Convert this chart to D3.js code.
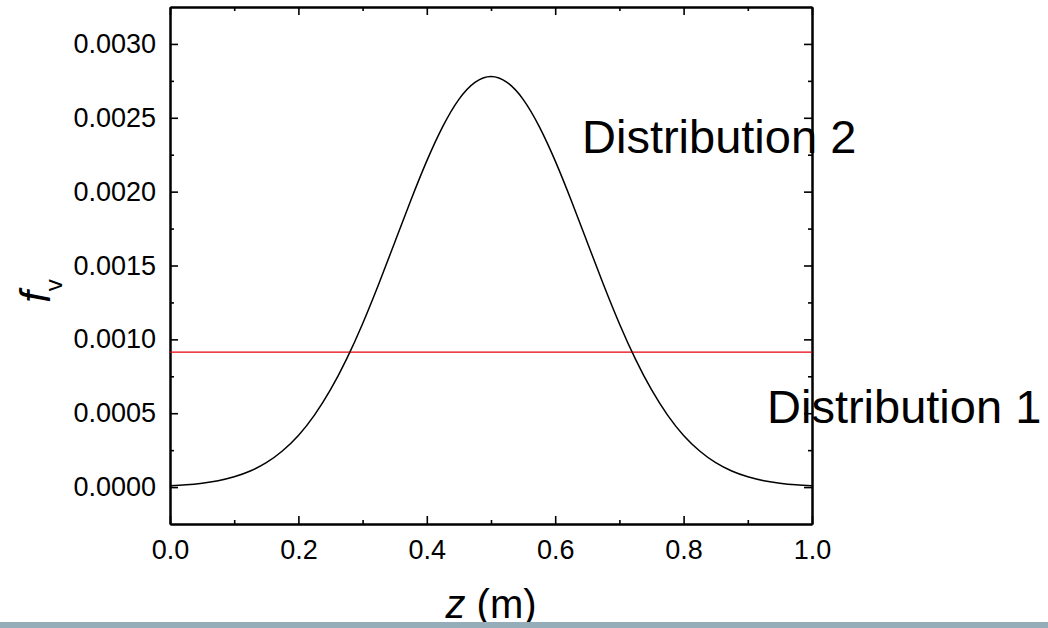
<!DOCTYPE html>
<html>
<head>
<meta charset="utf-8">
<script src="https://cdn.jsdelivr.net/npm/d3@7"></script>
<style>
  body { margin: 0; background: #fff; }
  svg { display: block; font-family: "Liberation Sans", Arial, sans-serif; }
</style>
</head>
<body>
<svg></svg>
<script>
'use strict';

const width = 1048, height = 628;

// curve samples
const zValues = [0, 0.025, 0.05, 0.075, 0.1, 0.125, 0.15, 0.175, 0.2, 0.225,
                 0.25, 0.275, 0.3, 0.325, 0.35, 0.375, 0.4, 0.425, 0.45, 0.475,
                 0.5,
                 0.525, 0.55, 0.575, 0.6, 0.625, 0.65, 0.675, 0.7, 0.725, 0.75,
                 0.775, 0.8, 0.825, 0.85, 0.875, 0.9, 0.925, 0.95, 0.975, 1.0];
const dist2 = [0.0000088, 0.0000153, 0.0000262, 0.0000433, 0.0000696, 0.0001088,
               0.000165, 0.000244, 0.000349, 0.000487, 0.000659, 0.000866,
               0.001106, 0.001373, 0.001656, 0.001940, 0.002208, 0.002442,
               0.002625, 0.002740,
               0.00278,
               0.002740, 0.002625, 0.002442, 0.002208, 0.001940, 0.001656,
               0.001373, 0.001106, 0.000866, 0.000659, 0.000487, 0.000349,
               0.000244, 0.000165, 0.0001088, 0.0000696, 0.0000433, 0.0000262,
               0.0000153, 0.0000088];
const dist1 = [0.000914, 0.000914];
const dist1Z = [0, 1];

const xTicks = [0, 0.2, 0.4, 0.6, 0.8, 1.0];
const xMinor = [0.1, 0.3, 0.5, 0.7, 0.9];
const yTicks = [0, 0.0005, 0.001, 0.0015, 0.002, 0.0025, 0.003];
const yMinor = [0.00025, 0.00075, 0.00125, 0.00175, 0.00225, 0.00275];

const margin = {left: 170, right: 236, top: 7, bottom: 104};

let svg = d3.select("svg")
  .attr("width", width)
  .attr("height", height)
  .attr("viewBox", [0, 0, width, height]);

let x = d3.scaleLinear().domain([0, 1]).range([margin.left, width - margin.right]);
let y = d3.scaleLinear().domain([-0.00025, 0.00325]).range([height - margin.bottom, margin.top]);

const fmtY = d3.format(".4f"), fmtX = d3.format(".1f");

function styleAxis(g) {
  g.selectAll("path.domain").attr("stroke", "#000").attr("stroke-width", 2);
  g.selectAll(".tick line").attr("stroke", "#000").attr("stroke-width", 1.6);
  g.selectAll(".tick text").attr("fill", "#000").attr("font-size", 27)
    .attr("font-family", "'Liberation Sans', Arial, sans-serif");
}

// bottom
svg.append("g")
  .attr("transform", `translate(0,${y.range()[0]})`)
  .call(d3.axisBottom(x).tickValues(xTicks).tickFormat(fmtX).tickSizeInner(-8).tickSizeOuter(0).tickPadding(16))
  .call(styleAxis);
svg.append("g")
  .attr("transform", `translate(0,${y.range()[0]})`)
  .call(d3.axisBottom(x).tickValues(xMinor).tickFormat("").tickSizeInner(-4).tickSizeOuter(0))
  .call(styleAxis);
// top
svg.append("g")
  .attr("transform", `translate(0,${y.range()[1]})`)
  .call(d3.axisTop(x).tickValues(xTicks).tickFormat("").tickSizeInner(-8).tickSizeOuter(0))
  .call(styleAxis);
svg.append("g")
  .attr("transform", `translate(0,${y.range()[1]})`)
  .call(d3.axisTop(x).tickValues(xMinor).tickFormat("").tickSizeInner(-4).tickSizeOuter(0))
  .call(styleAxis);
// left
svg.append("g")
  .attr("transform", `translate(${x.range()[0]},0)`)
  .call(d3.axisLeft(y).tickValues(yTicks).tickFormat(fmtY).tickSizeInner(-8).tickSizeOuter(0).tickPadding(14))
  .call(styleAxis);
svg.append("g")
  .attr("transform", `translate(${x.range()[0]},0)`)
  .call(d3.axisLeft(y).tickValues(yMinor).tickFormat("").tickSizeInner(-4).tickSizeOuter(0))
  .call(styleAxis);
// right
svg.append("g")
  .attr("transform", `translate(${x.range()[1]},0)`)
  .call(d3.axisRight(y).tickValues(yTicks).tickFormat("").tickSizeInner(-8).tickSizeOuter(0))
  .call(styleAxis);
svg.append("g")
  .attr("transform", `translate(${x.range()[1]},0)`)
  .call(d3.axisRight(y).tickValues(yMinor).tickFormat("").tickSizeInner(-4).tickSizeOuter(0))
  .call(styleAxis);

// lines
let line = d3.line()
  .x(d => x(d[0]))
  .y(d => y(d[1]))
  .curve(d3.curveNatural);

svg.append("path")
  .datum(dist1Z.map((z, i) => [z, dist1[i]]))
  .attr("fill", "none")
  .attr("stroke", "#e8000b")
  .attr("stroke-width", 1.2)
  .attr("d", line);

svg.append("path")
  .datum(zValues.map((z, i) => [z, dist2[i]]))
  .attr("fill", "none")
  .attr("stroke", "#000")
  .attr("stroke-width", 1.5)
  .attr("d", line);

// annotations
svg.append("text")
  .attr("x", 582).attr("y", 153)
  .attr("font-size", 47)
  .text("Distribution 2");

svg.append("text")
  .attr("x", 767).attr("y", 423)
  .attr("font-size", 47)
  .text("Distribution 1");

// axis titles
let xt = svg.append("text")
  .attr("x", (x.range()[0] + x.range()[1]) / 2)
  .attr("y", 618)
  .attr("text-anchor", "middle")
  .attr("font-size", 40);
xt.append("tspan").attr("font-style", "italic").text("z");
xt.append("tspan").text(" (m)");

let yt = svg.append("text")
  .attr("transform", "translate(50,291) rotate(-90)")
  .attr("text-anchor", "middle")
  .attr("font-size", 42);
yt.append("tspan").attr("font-style", "italic").text("f");
yt.append("tspan").attr("font-size", 24).attr("dy", 12).text("v");

// grey strip at the bottom
svg.append("rect")
  .attr("x", 0).attr("y", 622)
  .attr("width", width).attr("height", 6)
  .attr("fill", "#94adb9");
</script>
</body>
</html>
